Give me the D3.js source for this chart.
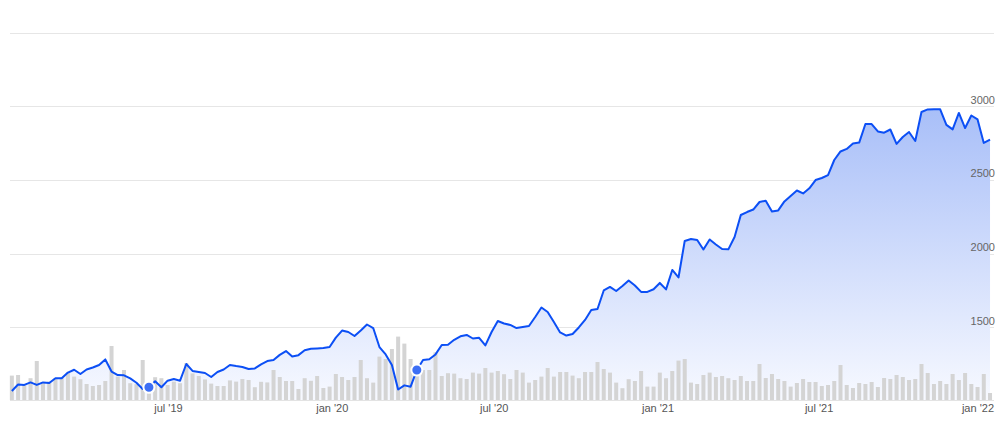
<!DOCTYPE html>
<html><head><meta charset="utf-8">
<script src="https://cdn.jsdelivr.net/npm/d3@7/dist/d3.min.js"></script>
<style>
html,body{margin:0;padding:0;background:#fff;}
svg{display:block;font-family:"Liberation Sans",Arial,sans-serif;}
</style></head>
<body>
<svg id="chart" width="997" height="423"></svg>
<script>
// weekly closing prices (Jan 2019 - Jan 2022)
const prices = [
1068,1112,1109,1126,1109,1126,1122,1154,1154,1193,
1212,1183,1214,1227,1244,1282,1200,1176,1174,1153,
1124,1081,1093,1134,1093,1138,1149,1138,1251,1204,
1197,1190,1163,1197,1214,1244,1237,1231,1217,1221,
1249,1271,1278,1313,1339,1302,1311,1344,1354,1357,
1359,1366,1430,1478,1468,1441,1478,1519,1495,1366,
1316,1244,1078,1106,1097,1210,1278,1283,1316,1380,
1381,1415,1439,1448,1424,1429,1377,1468,1543,1526,
1516,1495,1502,1509,1570,1634,1604,1536,1465,1444,
1455,1499,1550,1617,1624,1750,1774,1746,1780,1818,
1784,1740,1740,1758,1801,1757,1889,1838,2086,2099,
2092,2028,2096,2062,2031,2029,2113,2262,2282,2299,
2350,2359,2286,2293,2354,2391,2428,2408,2443,2499,
2513,2533,2635,2693,2710,2747,2753,2879,2879,2829,
2820,2842,2744,2791,2825,2764,2961,2978,2979,2979,
2873,2843,2954,2852,2937,2910,2751,2774
];
// weekly volume (millions)
const volumes = [
12.2,12.5,7.5,10.9,19.5,8.9,9.2,10.9,11.2,13.7,
11.7,10.4,8.0,7.0,7.5,9.5,27.0,11.7,15.0,8.4,
7.9,20.0,5.0,11.4,10.9,7.5,9.2,8.4,18.4,13.3,
12.0,10.3,8.2,7.0,7.0,9.8,9.2,10.5,10.0,6.4,
9.1,8.8,15.0,11.5,9.5,9.5,5.5,10.9,9.6,12.0,
6.0,6.7,13.0,11.5,10.0,11.5,20.0,10.9,8.7,21.7,
20.5,25.5,31.7,28.2,20.5,16.0,15.0,15.0,23.8,12.0,
13.4,13.2,10.9,10.5,13.7,13.2,16.0,13.7,14.5,12.9,
10.5,15.0,13.7,8.7,10.0,11.7,16.0,11.7,14.0,14.0,
12.2,10.9,14.0,14.0,19.0,15.5,13.7,8.7,5.9,10.4,
9.5,14.5,6.7,6.7,13.7,10.9,14.5,19.7,20.5,8.7,
8.0,12.5,13.7,11.5,12.0,10.9,10.0,12.0,9.5,9.5,
18.0,11.0,13.0,10.5,9.5,6.7,8.5,10.5,9.0,9.0,
7.0,7.5,9.5,17.5,7.5,6.0,8.5,8.0,9.0,6.5,
11.0,10.5,12.5,11.5,10.0,10.5,18.0,13.5,8.0,9.5,
8.0,13.0,10.0,13.5,8.0,6.5,13.0,3.5
];
const startDate = new Date(2019, 0, 6);
const eventIdx = [22, 65];
const yTicks = [1500, 2000, 2500, 3000, 3500];
const yTickLabels = ["1500", "2000", "2500", "3000", ""];
const xTickDates = [new Date(2019,6,1), new Date(2020,0,1), new Date(2020,6,1), new Date(2021,0,1), new Date(2021,6,1), new Date(2022,0,1)];
const xTickLabels = ["jul '19", "jan '20", "jul '20", "jan '21", "jul '21", "jan '22"];

const dates = prices.map((_, i) => d3.timeDay.offset(startDate, i * 7));
const data = prices.map((p, i) => ({date: dates[i], price: p, vol: volumes[i]}));

const svg = d3.select("#chart");
const x = d3.scaleTime().domain([new Date(2019,0,1), new Date(2022,0,1)]).range([7.4, 982.9]);
const y = d3.scaleLinear().domain([1000, 3500]).range([401, 32.5]);
const yv = d3.scaleLinear().domain([0, 40]).range([400, 320]);
const gridL = 10, gridR = 994;

// gradient
const defs = svg.append("defs");
const grad = defs.append("linearGradient").attr("id","areaGrad")
  .attr("gradientUnits","userSpaceOnUse").attr("x1",0).attr("x2",0).attr("y1",100).attr("y2",400);
grad.append("stop").attr("offset","0").attr("stop-color","#a6bdf8");
grad.append("stop").attr("offset","1").attr("stop-color","#f7f9ff");

// grid
svg.append("g").selectAll("line").data(yTicks).join("line")
  .attr("x1", gridL).attr("x2", gridR)
  .attr("y1", d => Math.round(y(d)) + 0.5).attr("y2", d => Math.round(y(d)) + 0.5)
  .attr("stroke", "#e6e6e6").attr("stroke-width", 1);

// area
const area = d3.area().x(d => x(d.date)).y0(400).y1(d => y(d.price));
svg.append("path").datum(data).attr("d", area).attr("fill", "url(#areaGrad)");

// baseline
svg.append("line").attr("x1", gridL).attr("x2", gridR).attr("y1", 400.5).attr("y2", 400.5)
  .attr("stroke", "#e3e3e3");

// volume bars
const bw = 4;
svg.append("g").selectAll("rect").data(data).join("rect")
  .attr("x", d => x(d.date) - bw/2).attr("width", bw)
  .attr("y", d => yv(d.vol)).attr("height", d => 400 - yv(d.vol))
  .attr("fill", "#d4d4d4");

// line
const line = d3.line().x(d => x(d.date)).y(d => y(d.price));
svg.append("path").datum(data).attr("d", line)
  .attr("fill", "none").attr("stroke", "#0c4ff5").attr("stroke-width", 2).attr("stroke-linejoin","round");

// event markers
svg.append("g").selectAll("circle").data(eventIdx.map(i => data[i])).join("circle")
  .attr("cx", d => x(d.date)).attr("cy", d => y(d.price)).attr("r", 5.5)
  .attr("fill", "#3d6ff5").attr("stroke", "#fff").attr("stroke-width", 2);

// y labels
svg.append("g").selectAll("text").data(yTicks.map((t, i) => ({t, l: yTickLabels[i]})).filter(d => d.l)).join("text")
  .attr("x", 995).attr("y", d => y(d.t) - 2.5).attr("text-anchor", "end")
  .attr("font-size", 11).attr("fill", "#666").text(d => d.l);

// x labels
const xl = svg.append("g").selectAll("text").data(xTickDates.map((d, i) => ({d, l: xTickLabels[i]}))).join("text")
  .attr("x", d => x(d.d)).attr("y", 412).attr("text-anchor", "middle")
  .attr("font-size", 11).attr("fill", "#555").text(d => d.l);
xl.each(function(d) {
  const w = this.getComputedTextLength();
  const cx = x(d.d);
  if (cx + w/2 > 994) d3.select(this).attr("x", 994 - w/2);
});
</script>
</body></html>
